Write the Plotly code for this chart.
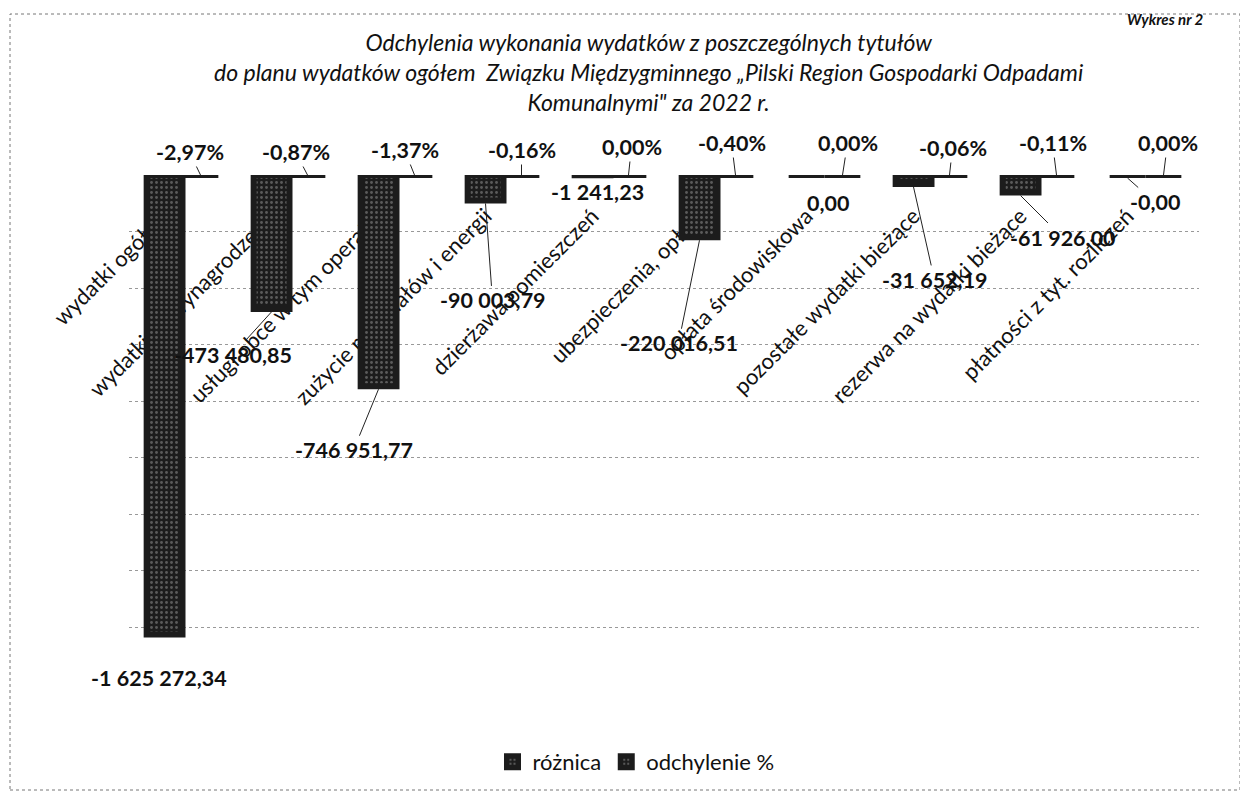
import plotly.graph_objects as go

# ---------------- data ----------------
categories = [
    "wydatki ogółem",
    "wydatki na wynagrodzenia",
    "usługi obce w tym operator",
    "zużycie materiałów i energii",
    "dzierżawa pomieszczeń",
    "ubezpieczenia, opłaty",
    "opłata środowiskowa",
    "pozostałe wydatki bieżące",
    "rezerwa na wydatki bieżące",
    "płatności z tyt. rozliczeń",
]
roznica = [-1625272.34, -473480.85, -746951.77, -90003.79, -1241.23,
           -220016.51, 0.00, -31652.19, -61926.00, -0.001]
roznica_labels = ["-1 625 272,34", "-473 480,85", "-746 951,77", "-90 003,79",
                  "-1 241,23", "-220 016,51", "0,00", "-31 652,19", "-61 926,00", "-0,00"]
odchylenie = [-2.97, -0.87, -1.37, -0.16, 0.00, -0.40, 0.00, -0.06, -0.11, 0.00]
odchylenie_labels = ["-2,97%", "-0,87%", "-1,37%", "-0,16%", "0,00%",
                     "-0,40%", "0,00%", "-0,06%", "-0,11%", "0,00%"]
series_names = ["różnica", "odchylenie %"]
title_lines = [
    "Odchylenia wykonania wydatków z poszczególnych tytułów",
    "do planu wydatków ogółem  Związku Międzygminnego „Pilski Region Gospodarki Odpadami",
    "Komunalnymi\" za 2022 r.",
]

# ---------------- layout constants ----------------
OFF = 8                      # default body margin of the html page
W, H = 1240, 785
ML, MT = 121, 167
PW, PH = 1070, 509
MR, MB = W - ML - PW, H - MT - PH
FONT = "Lato"
DARK = "#1c1c1c"


def px_x(x):   # page pixel -> paper fraction
    return (x - OFF - ML) / PW


def px_y(y):
    return (H - MB - (y - OFF)) / PH


fig = go.Figure()
for name, vals in zip(series_names, [roznica, odchylenie]):
    fig.add_trace(go.Bar(
        x=categories, y=vals, name=name,
        marker=dict(color=DARK, line=dict(color=DARK, width=6),
                    pattern=dict(shape=".", fgcolor="#9a9a9a", bgcolor=DARK,
                                 size=5, solidity=0.25)),
        hoverinfo="skip",
    ))

annotations = []
annotations.append(dict(text="<br>".join(title_lines), x=px_x(648), y=px_y(72), xref="paper", yref="paper",
                        showarrow=False, xanchor="center", yanchor="middle", align="center",
                        font=dict(family=FONT, size=23, style="italic", color="#111")))
annotations.append(dict(text="Wykres nr 2", x=px_x(1165), y=px_y(OFF), xref="paper", yref="paper",
                        showarrow=False, xanchor="center", yanchor="top",
                        font=dict(family=FONT, size=15, style="italic", weight="bold", color="#111")))

LABEL_FONT = dict(family=FONT, size=21.5, weight="bold", color="#111")
# data labels for "różnica" (label centre offset from bar end, pixels; leader line?)
r_off = [(-6, 40, False), (-39, 43, True), (-25, 61, True), (7, 97, True), (5, 14, False),
         (-21, 103, True), (21, 25, False), (21, 93, True), (42, 42, True), (27, 24, True)]
for c, v, lab, (dx, dy, arr) in zip(categories, roznica, roznica_labels, r_off):
    annotations.append(dict(x=c, y=v, xref="x", yref="y", text=lab, xshift=-18, yshift=-3,
                            showarrow=True, arrowhead=0, arrowwidth=1,
                            arrowcolor="#222" if arr else "rgba(0,0,0,0)",
                            ax=dx, ay=dy, standoff=0, font=LABEL_FONT))
# data labels for "odchylenie %"
p_off = [(-11, -23), (-12, -23), (-10, -25), (0, -25), (3, -28),
         (-4, -32), (5, -32), (3, -27), (-4, -32), (4, -32)]
for c, v, lab, (dx, dy) in zip(categories, odchylenie, odchylenie_labels, p_off):
    annotations.append(dict(x=c, y=v, xref="x", yref="y", text=lab, xshift=18, yshift=0,
                            showarrow=True, arrowhead=0, arrowwidth=1, arrowcolor="#222",
                            ax=dx, ay=dy, standoff=0, font=LABEL_FONT))

fig.update_layout(
    width=W, height=H,
    margin=dict(l=ML, r=MR, t=MT, b=MB, autoexpand=False),
    paper_bgcolor="white", plot_bgcolor="white",
    barmode="group", bargap=0.33, bargroupgap=0,
    font=dict(family=FONT, color="#111"),
    showlegend=True,
    legend=dict(orientation="h", xref="container", yref="container",
                x=(636 - OFF) / W, y=(H - (762 - OFF)) / H,
                xanchor="center", yanchor="middle",
                font=dict(family=FONT, size=22, color="#111")),
    annotations=annotations,
    shapes=[dict(type="rect", xref="paper", yref="paper",
                 x0=px_x(10), x1=px_x(1240), y0=px_y(790), y1=px_y(14),
                 line=dict(color="#777", width=1, dash="dot"), layer="below")],
)
fig.update_xaxes(range=[-0.5, 9.5], anchor="free", position=1, side="bottom", tickangle=-45,
                 showline=False, ticks="", showgrid=False, automargin=False, layer="below traces",
                 tickfont=dict(family=FONT, size=22, color="#111"),
                 ticklabelstandoff=23, ticklabelshift=-18)
fig.update_yaxes(range=[-1800000, 0], dtick=200000, showticklabels=False, zeroline=False,
                 showgrid=True, gridcolor="#999", gridwidth=1, griddash="dot", automargin=False)

fig.write_html("out.html")
